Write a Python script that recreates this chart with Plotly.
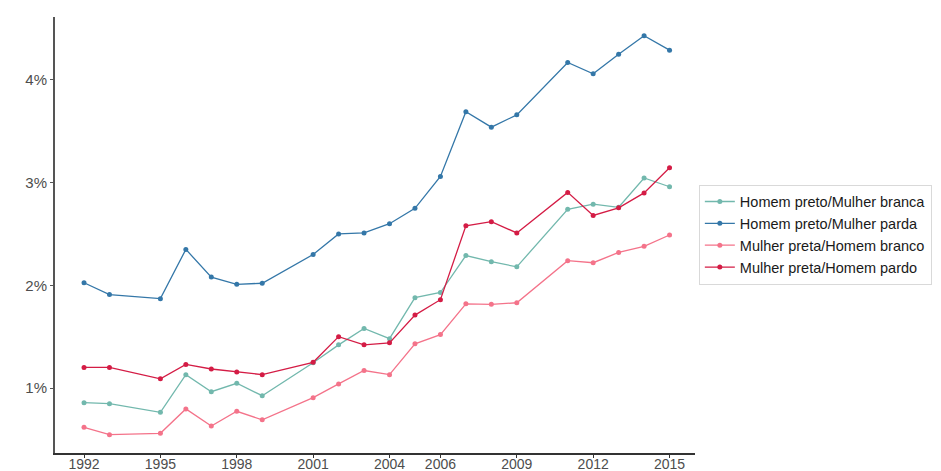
import plotly.graph_objects as go

years = [1992, 1993, 1995, 1996, 1997, 1998, 1999, 2001, 2002, 2003, 2004,
         2005, 2006, 2007, 2008, 2009, 2011, 2012, 2013, 2014, 2015]

homem_preto_mulher_branca = [0.857, 0.847, 0.763, 1.13, 0.964, 1.046, 0.925, 1.246, 1.42, 1.58, 1.48,
                             1.88, 1.93, 2.29, 2.23, 2.18, 2.74, 2.79, 2.76, 3.045, 2.96]
homem_preto_mulher_parda = [2.025, 1.91, 1.87, 2.35, 2.08, 2.01, 2.02, 2.30, 2.50, 2.51, 2.60,
                            2.75, 3.06, 3.69, 3.54, 3.66, 4.17, 4.06, 4.25, 4.43, 4.29]
mulher_preta_homem_branco = [0.617, 0.545, 0.559, 0.796, 0.63, 0.773, 0.69, 0.906, 1.04, 1.17, 1.13,
                             1.43, 1.52, 1.82, 1.815, 1.83, 2.24, 2.22, 2.32, 2.38, 2.49]
mulher_preta_homem_pardo = [1.20, 1.20, 1.09, 1.23, 1.185, 1.156, 1.13, 1.25, 1.50, 1.42, 1.44,
                            1.71, 1.86, 2.58, 2.62, 2.51, 2.905, 2.68, 2.755, 2.90, 3.145]

series = [
    ("Homem preto/Mulher branca", homem_preto_mulher_branca, "#72b8ad"),
    ("Homem preto/Mulher parda", homem_preto_mulher_parda, "#3477a8"),
    ("Mulher preta/Homem branco", mulher_preta_homem_branco, "#f4738a"),
    ("Mulher preta/Homem pardo", mulher_preta_homem_pardo, "#d41c45"),
]

x_ticks = [1992, 1995, 1998, 2001, 2004, 2006, 2009, 2012, 2015]
y_ticks = [1, 2, 3, 4]
y_tick_labels = ["1%", "2%", "3%", "4%"]

fig = go.Figure()
for name, vals, color in series:
    fig.add_trace(go.Scatter(
        x=years, y=vals, name=name, mode="lines+markers",
        line=dict(color=color, width=1.3),
        marker=dict(color=color, size=5),
    ))

fig.update_layout(
    width=933, height=463,
    margin=dict(l=47, r=246, t=9, b=18, autoexpand=False),
    paper_bgcolor="white", plot_bgcolor="white",
    font=dict(family="Liberation Sans, Arial, sans-serif", size=15, color="#4d4d4d"),
    showlegend=True,
    legend=dict(
        x=1.006, y=0.501, xanchor="left", yanchor="middle",
        bordercolor="#d9d9d9", borderwidth=1,
        font=dict(size=14.5, color="#1a1a1a"),
    ),
)
fig.update_xaxes(
    range=[1990.86, 2016.0], tickvals=x_ticks, ticktext=[str(t) for t in x_ticks],
    showgrid=False, zeroline=False, showline=True, linecolor="#333333", linewidth=1.5,
    ticks="outside", ticklen=3, tickcolor="#333333", tickfont=dict(size=14, color="#4d4d4d"),
    ticklabelstandoff=-6,
    automargin=False,
)
fig.update_yaxes(
    range=[0.367, 4.613], tickvals=y_ticks, ticktext=y_tick_labels,
    showgrid=False, zeroline=False, showline=True, linecolor="#555555", linewidth=2,
    ticks="outside", ticklen=3, tickcolor="#555555", tickfont=dict(size=15, color="#4d4d4d"),
    automargin=False,
)

fig.write_html("out.html")
